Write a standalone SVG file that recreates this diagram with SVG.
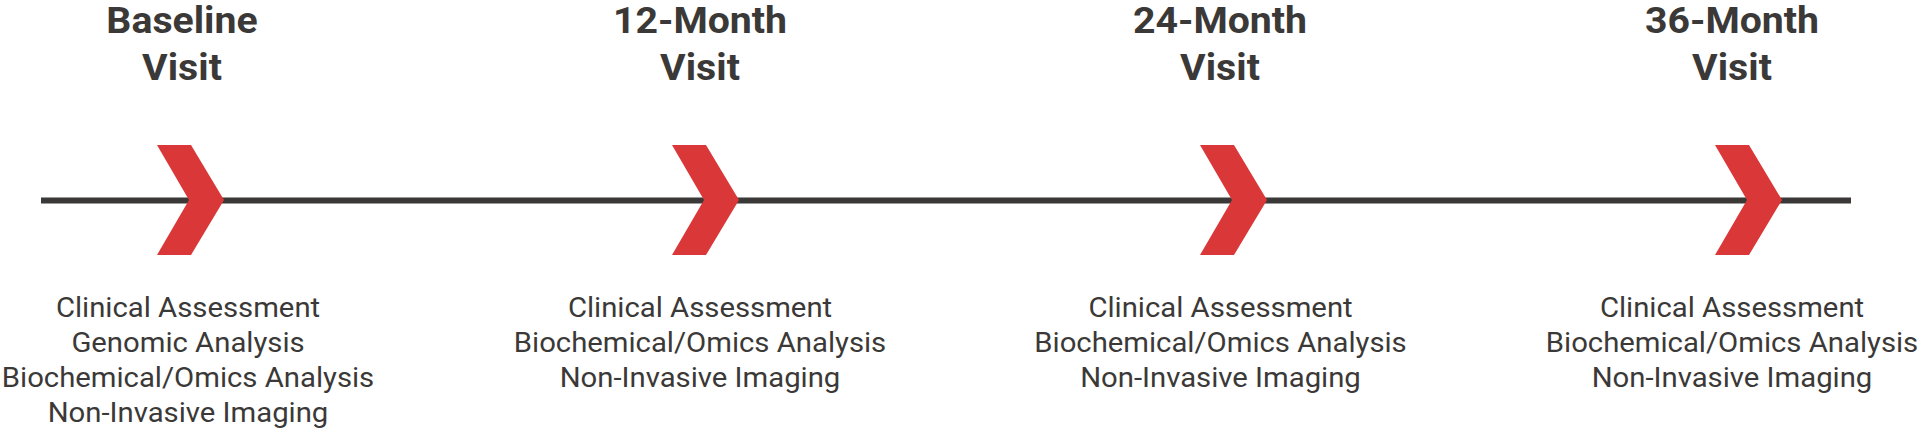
<svg xmlns="http://www.w3.org/2000/svg" width="1920" height="429" viewBox="0 0 1920 429">
<style>
.title{font-family:Roboto,"Liberation Sans",sans-serif;font-weight:700;font-size:36.5px;fill:#3b3937;text-anchor:middle}
.body{font-family:Roboto,"Liberation Sans",sans-serif;font-weight:400;font-size:27px;fill:#3b3937;text-anchor:middle}
.chev{fill:#da3739}
</style>
<defs>
<polygon id="chevron" points="0,145 34,145 67,200 34,255 0,255 32,200"/>
</defs>
<g id="connectors">
<line x1="41" y1="200.5" x2="1851" y2="200.5" stroke="#3b3937" stroke-width="6"/>
</g>
<g id="baseline">
<use href="#chevron" class="chev" x="157"/>
<g transform="translate(182,0) scale(1.075,1)">
<text class="title" x="0" y="33">Baseline</text>
<text class="title" x="0" y="80">Visit</text>
</g>
<g transform="translate(188,0) scale(1.085,1)">
<text class="body" x="0" y="316.7">Clinical Assessment</text>
<text class="body" x="0" y="351.7">Genomic Analysis</text>
<text class="body" x="0" y="386.7">Biochemical/Omics Analysis</text>
<text class="body" x="0" y="421.7">Non-Invasive Imaging</text>
</g>
</g>
<g id="month12">
<use href="#chevron" class="chev" x="672"/>
<g transform="translate(700,0) scale(1.075,1)">
<text class="title" x="0" y="33">12-Month</text>
<text class="title" x="0" y="80">Visit</text>
</g>
<g transform="translate(700,0) scale(1.085,1)">
<text class="body" x="0" y="316.7">Clinical Assessment</text>
<text class="body" x="0" y="351.7">Biochemical/Omics Analysis</text>
<text class="body" x="0" y="386.7">Non-Invasive Imaging</text>
</g>
</g>
<g id="month24">
<use href="#chevron" class="chev" x="1200"/>
<g transform="translate(1220,0) scale(1.075,1)">
<text class="title" x="0" y="33">24-Month</text>
<text class="title" x="0" y="80">Visit</text>
</g>
<g transform="translate(1220.5,0) scale(1.085,1)">
<text class="body" x="0" y="316.7">Clinical Assessment</text>
<text class="body" x="0" y="351.7">Biochemical/Omics Analysis</text>
<text class="body" x="0" y="386.7">Non-Invasive Imaging</text>
</g>
</g>
<g id="month36">
<use href="#chevron" class="chev" x="1715"/>
<g transform="translate(1732,0) scale(1.075,1)">
<text class="title" x="0" y="33">36-Month</text>
<text class="title" x="0" y="80">Visit</text>
</g>
<g transform="translate(1732,0) scale(1.085,1)">
<text class="body" x="0" y="316.7">Clinical Assessment</text>
<text class="body" x="0" y="351.7">Biochemical/Omics Analysis</text>
<text class="body" x="0" y="386.7">Non-Invasive Imaging</text>
</g>
</g>
</svg>
